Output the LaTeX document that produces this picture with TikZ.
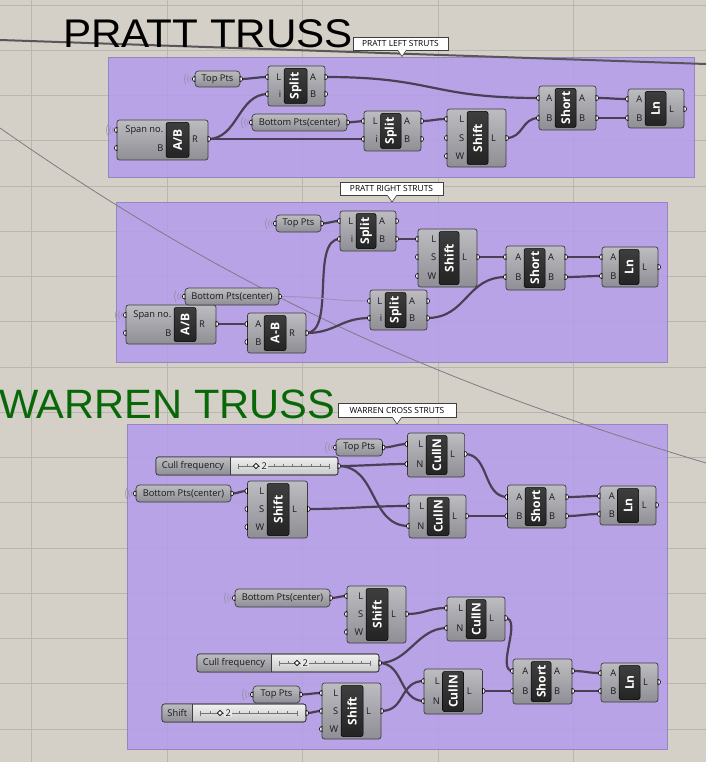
\documentclass[tikz,border=0pt]{standalone}
\usepackage{fontspec}
\setmainfont{Open Sans}
\newfontfamily\titlefont{Liberation Sans}
\usetikzlibrary{fit}
\pgfdeclarelayer{bg}
\pgfdeclarelayer{wirelayer}
\pgfsetlayers{bg,wirelayer,main}

\definecolor{canvas}{RGB}{212,208,200}
\definecolor{gridc}{RGB}{186,182,175}
\definecolor{grp}{RGB}{179,157,235}
\definecolor{grpb}{RGB}{150,132,195}
\definecolor{wirec}{RGB}{74,64,86}
\definecolor{ctop}{RGB}{188,188,193}
\definecolor{cbot}{RGB}{142,142,148}
\definecolor{cedge}{RGB}{62,62,66}
\definecolor{dtop}{RGB}{62,62,62}
\definecolor{dbot}{RGB}{36,36,36}
\definecolor{txtc}{RGB}{25,25,25}
\definecolor{wlc}{RGB}{140,136,145}
\definecolor{strackA}{RGB}{240,240,240}
\definecolor{strackB}{RGB}{200,200,200}
\definecolor{greent}{RGB}{8,104,8}
\definecolor{longl}{RGB}{88,86,88}
\definecolor{thinl}{RGB}{128,122,132}
\definecolor{faintw}{RGB}{160,146,190}

\tikzset{
  compbox/.style={draw=cedge, line width=0.7pt, rounded corners=2.5pt, top color=ctop, bottom color=cbot, inner sep=0pt, outer sep=0pt},
  parbox/.style={compbox, rounded corners=3.5pt},
  darkc/.style={draw=black, line width=0.5pt, top color=dtop, bottom color=dbot, rounded corners=2pt, inner sep=0pt, outer sep=0pt},
  clabel/.style={text=white, font=\bfseries\fontsize{12}{12}\selectfont, rotate=90, inner sep=0pt},
  plabel/.style={font=\fontsize{9.3}{9.3}\selectfont, text=txtc, inner sep=0pt},
  ptext/.style={font=\fontsize{9.3}{9.3}\selectfont, text=txtc, inner sep=0pt},
  grip/.style={draw=black, fill=white, line width=0.6pt},
  wless/.style={draw=wlc, line width=0.45pt},
  wire/.style={draw=wirec, line width=2.2pt},
  grpst/.style={fill=grp, fill opacity=0.88, draw=grpb, line width=0.6pt, inner sep=0pt, outer sep=0pt},
  gridl/.style={draw=gridc, line width=0.7pt},
  callbox/.style={draw=black!75, fill=white, line width=0.6pt, inner sep=0pt, outer sep=0pt},
  calltext/.style={font=\fontsize{8.4}{8.4}\selectfont, text=black, inner sep=0pt},
  titlest/.style={font=\titlefont\fontsize{40}{40}\selectfont, anchor=base west, inner sep=0pt},
  trackl/.style={draw=black!55, line width=0.5pt},
}

\newcommand{\wl}[1]{%
  \foreach \r in {4.5,7.5,10.5}{\draw[wless] (#1) ++(150:\r pt) arc[start angle=150,end angle=210,radius=\r pt];}%
}
\newcommand{\comp}[8]{%
  \node[compbox, fit={(#2,#3) (#4,#5)}] (#1) {};
  \node[darkc, fit={(#6,#3+2.5) (#7,#5-2.5)}] (#1-c) {};
  \node[clabel] (#1-t) at (#1-c.center) {#8};
}
\newcommand{\pin}[4]{%
  \coordinate (tmp) at (0,#3);
  \coordinate (#1-#2) at (#1.west |- tmp);
  \draw[grip] (#1-#2) ++(0,-2.6) arc[start angle=90,end angle=270,radius=2.6pt] -- cycle;
  \path (#1-c.west |- tmp) ++(-2.5,0) node[plabel,anchor=east] {#4};
}
\newcommand{\pout}[4]{%
  \coordinate (tmp) at (0,#3);
  \coordinate (#1-#2) at (#1.east |- tmp);
  \draw[grip] (#1-#2) ++(0,-2.6) arc[start angle=90,end angle=-90,radius=2.6pt] -- cycle;
  \path (#1-c.east |- tmp) ++(3,0) node[plabel,anchor=west] {#4};
}
\newcommand{\param}[6]{%
  \node[parbox, fit={(#2,#3) (#4,#5)}] (#1) {};
  \node[ptext] (#1-t) at (#1.center) {#6};
  \coordinate (#1-i) at (#1.west);
  \coordinate (#1-o) at (#1.east);
  \draw[grip] (#1-i) ++(0,-2.6) arc[start angle=90,end angle=270,radius=2.6pt] -- cycle;
  \draw[grip] (#1-o) ++(0,-2.6) arc[start angle=90,end angle=-90,radius=2.6pt] -- cycle;
  \wl{#1-i}
}
\newcommand{\slider}[8]{%
  \pgfmathsetmacro{\ym}{(#3+#5)/2}%
  \pgfmathsetmacro{\tka}{#6+8}%
  \pgfmathsetmacro{\tkb}{#4-9}%
  \pgfmathsetmacro{\tkd}{(#4-#6-17)/10}%
  \pgfmathsetmacro{\lx}{(#2+#6)/2}%
  \node[compbox, top color=strackA, bottom color=strackB, fit={(#2,#3) (#4,#5)}] (#1) {};
  \path[top color=ctop, bottom color=cbot] (#6,#3) [rounded corners=2.5pt] -- (#2,#3) -- (#2,#5) [sharp corners] -- (#6,#5) -- cycle;
  \draw[cedge, line width=0.6pt] (#6,#3) -- (#6,#5);
  \draw[cedge, line width=0.7pt, rounded corners=2.5pt] (#2,#3) rectangle (#4,#5);
  \node[ptext] (#1-t) at (\lx,\ym) {#7};
  \draw[trackl] (\tka,\ym) -- (\tkb,\ym);
  \foreach \tk in {0,...,10}{\draw[trackl] ({\tka+\tk*\tkd},\ym) -- ++(0,-2);}
  \draw[trackl] (\tka,\ym-2.5) -- ++(0,5);
  \draw[trackl] (\tkb,\ym-2.5) -- ++(0,5);
  \fill[strackA!80!strackB] (#8+4,\ym-4) rectangle (#8+12,\ym+4);
  \draw[fill=white, draw=black, line width=0.6pt] (#8-2.6,\ym) -- ++(2.6,-2.6) -- ++(2.6,2.6) -- ++(-2.6,2.6) -- cycle;
  \node[ptext, anchor=west] (#1-v) at (#8+5.5,\ym) {2};
  \coordinate (#1-o) at (#1.east);
  \draw[grip] (#1-o) ++(0,-2.6) arc[start angle=90,end angle=-90,radius=2.6pt] -- cycle;
}
\newcommand{\wire}[3]{\draw[wire] (#1) .. controls +(#3,0) and +(-#3,0) .. (#2);}
\newcommand{\callout}[7]{% name x1 y1 x2 y2 tipx text
  \node[callbox, fit={(#2,#3) (#4,#5)}] (#1) {};
  \coordinate (#1-tip) at (#6,#5+6.5);
  \fill[white] (#6-4.5,#5-0.4) -- (#1-tip) -- (#6+4.5,#5-0.4) -- cycle;
  \draw[black!75, line width=0.6pt] (#6-4.5,#5) -- (#1-tip) -- (#6+4.5,#5);
  \node[calltext] (#1-t) at (#1.center) {#7};
}

\begin{document}
\begin{tikzpicture}[x=1pt,y=-1pt]
\useasboundingbox (0,0) rectangle (706,762);
\clip (0,0) rectangle (706,762);
\begin{pgfonlayer}{bg}
\fill[canvas] (0,0) rectangle (706,762);
\foreach \gx in {31,167,302,438,573}{\draw[gridl] (\gx,0) -- (\gx,762);}
\foreach \k in {0,...,16}{\draw[gridl] (0,5+45.25*\k) -- (706,5+45.25*\k);}
\node[grpst, fit={(108,57) (694,177)}] (g1) {};
\node[grpst, fit={(116,202) (667,362)}] (g2) {};
\node[grpst, fit={(127,424) (667,749)}] (g3) {};
\end{pgfonlayer}

% titles
\node[titlest, xscale=1.055] (t1) at (63,48) {PRATT TRUSS};
\node[titlest, text=greent, xscale=1.015, font=\titlefont\fontsize{41}{41}\selectfont] (t2) at (-1,418) {WARREN TRUSS};

% callouts
\callout{c1}{353}{37}{448}{50}{402}{PRATT LEFT STRUTS}
\callout{c2}{340}{182}{443}{195.5}{392}{PRATT RIGHT STRUTS}
\callout{c3}{338}{403}{456}{417.5}{397}{WARREN CROSS STRUTS}

% ---------- group 1
\comp{ab1}{117}{120}{208}{160}{166}{189}{A/B}
\pin{ab1}{a}{130}{Span no.}\pin{ab1}{b}{148}{B}\pout{ab1}{oR}{139}{R}
\wl{ab1-a}
\param{tp1}{195}{71}{240}{87}{Top Pts}
\comp{sp1}{268}{66}{325}{106}{284}{307}{Split}
\pin{sp1}{L}{77}{L}\pin{sp1}{i}{94}{i}\pout{sp1}{oA}{77}{A}\pout{sp1}{oB}{94}{B}
\param{bp1}{252}{114}{347}{131}{Bottom Pts(center)}
\comp{sp2}{364}{111}{421}{151}{380.5}{401}{Split}
\pin{sp2}{L}{121}{L}\pin{sp2}{i}{139}{i}\pout{sp2}{oA}{121}{A}\pout{sp2}{oB}{139}{B}
\comp{sh1}{447}{109}{506}{167}{467}{488}{Shift}
\pin{sh1}{L}{119}{L}\pin{sh1}{S}{138}{S}\pin{sh1}{W}{156}{W}\pout{sh1}{oL}{138}{L}
\comp{sr1}{539}{86}{596}{130}{555}{576}{Short}
\pin{sr1}{A}{98}{A}\pin{sr1}{B}{118}{B}\pout{sr1}{oA}{98}{A}\pout{sr1}{oB}{118}{B}
\comp{ln1}{628}{89}{684}{128}{645}{666}{Ln}
\pin{ln1}{A}{99}{A}\pin{ln1}{B}{118}{B}\pout{ln1}{oL}{109}{L}

% ---------- group 2
\param{tp2}{276}{215}{321}{232}{Top Pts}
\comp{sp3}{340}{211}{396}{251}{356}{376}{Split}
\pin{sp3}{L}{221}{L}\pin{sp3}{i}{239}{i}\pout{sp3}{oA}{221}{A}\pout{sp3}{oB}{239}{B}
\comp{sh2}{418}{229}{477}{287}{439}{459}{Shift}
\pin{sh2}{L}{239}{L}\pin{sh2}{S}{257}{S}\pin{sh2}{W}{276}{W}\pout{sh2}{oL}{257}{L}
\comp{sr2}{506}{246}{565}{290}{524}{545}{Short}
\pin{sr2}{A}{257}{A}\pin{sr2}{B}{277}{B}\pout{sr2}{oA}{257}{A}\pout{sr2}{oB}{277}{B}
\comp{ln2}{602}{247}{658}{287}{619}{639}{Ln}
\pin{ln2}{A}{257}{A}\pin{ln2}{B}{276}{B}\pout{ln2}{oL}{267}{L}
\comp{ab2}{126}{305}{216}{344}{174}{196}{A/B}
\pin{ab2}{a}{315}{Span no.}\pin{ab2}{b}{333}{B}\pout{ab2}{oR}{324}{R}
\wl{ab2-a}
\param{bp2}{185}{288}{279}{305}{Bottom Pts(center)}
\comp{amb}{247.5}{313}{306}{353}{264}{286}{A-B}
\pin{amb}{A}{324}{A}\pin{amb}{B}{342}{B}\pout{amb}{oR}{333}{R}
\comp{sp4}{370}{290}{427}{330}{385}{406}{Split}
\pin{sp4}{L}{301}{L}\pin{sp4}{i}{318}{i}\pout{sp4}{oA}{301}{A}\pout{sp4}{oB}{318}{B}

% ---------- group 3 (top)
\param{tp3}{336}{439}{382.5}{456}{Top Pts}
\comp{cn1}{407.5}{433}{464.6}{477}{426}{447}{CullN}
\pin{cn1}{L}{444}{L}\pin{cn1}{N}{464}{N}\pout{cn1}{oL}{454}{L}
\slider{sl1}{156}{457}{338}{475}{230}{Cull frequency}{256}
\param{bp3}{136}{485}{231}{502}{Bottom Pts(center)}
\comp{sh3}{247.5}{481}{307.5}{538}{267}{289}{Shift}
\pin{sh3}{L}{491}{L}\pin{sh3}{S}{509}{S}\pin{sh3}{W}{527}{W}\pout{sh3}{oL}{509}{L}
\comp{cn2}{409}{495}{466}{538}{427}{449}{CullN}
\pin{cn2}{L}{506}{L}\pin{cn2}{N}{526}{N}\pout{cn2}{oL}{516}{L}
\comp{sr3}{507.5}{485}{566}{528}{525}{546}{Short}
\pin{sr3}{A}{497}{A}\pin{sr3}{B}{516}{B}\pout{sr3}{oA}{497}{A}\pout{sr3}{oB}{516}{B}
\comp{ln3}{600}{486}{656}{525}{617.5}{638.6}{Ln}
\pin{ln3}{A}{496}{A}\pin{ln3}{B}{514}{B}\pout{ln3}{oL}{505}{L}

% ---------- group 3 (bottom)
\param{bp4}{235}{589}{330}{607}{Bottom Pts(center)}
\comp{sh4}{347}{586}{406}{643}{366}{388}{Shift}
\pin{sh4}{L}{596}{L}\pin{sh4}{S}{614}{S}\pin{sh4}{W}{632}{W}\pout{sh4}{oL}{614}{L}
\comp{cn3}{447}{597}{505}{641}{466}{486}{CullN}
\pin{cn3}{L}{608}{L}\pin{cn3}{N}{628}{N}\pout{cn3}{oL}{618}{L}
\slider{sl2}{197}{654}{379}{672}{271}{Cull frequency}{297}
\param{tp4}{253}{686}{300}{703}{Top Pts}
\slider{sl3}{162}{704}{306}{722}{192.5}{Shift}{220}
\comp{sh5}{322}{683}{381}{739}{341}{363}{Shift}
\pin{sh5}{L}{693}{L}\pin{sh5}{S}{711}{S}\pin{sh5}{W}{729}{W}\pout{sh5}{oL}{711}{L}
\comp{cn4}{424}{669}{482.5}{714}{442.5}{463.6}{CullN}
\pin{cn4}{L}{681}{L}\pin{cn4}{N}{701}{N}\pout{cn4}{oL}{691}{L}
\comp{sr4}{513}{659}{572}{704}{531}{551}{Short}
\pin{sr4}{A}{671}{A}\pin{sr4}{B}{691}{B}\pout{sr4}{oA}{671}{A}\pout{sr4}{oB}{691}{B}
\comp{ln4}{601}{663}{658}{702}{619}{640}{Ln}
\pin{ln4}{A}{673}{A}\pin{ln4}{B}{691}{B}\pout{ln4}{oL}{682}{L}

% ---------- wires
\begin{pgfonlayer}{wirelayer}
\coordinate (la) at (0,40);
\coordinate (lb) at (706,64);
\draw[longl, line width=2pt] (la) -- (lb);
\coordinate (ta) at (0,128);
\coordinate (tb) at (706,463);
\draw[thinl, line width=0.8pt] (ta) .. controls (250,303) and (456,388) .. (tb);
% group 1
\wire{tp1-o}{sp1-L}{10}
\wire{ab1-oR}{sp1-i}{30}
\wire{ab1-oR}{sp2-i}{40}
\wire{bp1-o}{sp2-L}{8}
\wire{sp1-oA}{sr1-A}{110}
\wire{sp2-oA}{sh1-L}{12}
\wire{sh1-oL}{sr1-B}{18}
\wire{sr1-oA}{ln1-A}{15}
\wire{sr1-oB}{ln1-B}{15}
% group 2
\wire{tp2-o}{sp3-L}{8}
\wire{ab2-oR}{amb-A}{12}
\wire{amb-oR}{sp3-i}{30}
\wire{amb-oR}{sp4-i}{30}
\draw[faintw, line width=1pt] (bp2-o) .. controls +(40,0) and +(-40,0) .. (sp4-L);
\wire{sp3-oB}{sh2-L}{10}
\wire{sh2-oL}{sr2-A}{12}
\wire{sp4-oB}{sr2-B}{40}
\wire{sr2-oA}{ln2-A}{15}
\wire{sr2-oB}{ln2-B}{15}
% group 3 top
\wire{tp3-o}{cn1-L}{10}
\wire{sl1-o}{cn1-N}{25}
\wire{sl1-o}{cn2-N}{40}
\wire{bp3-o}{sh3-L}{8}
\wire{sh3-oL}{cn2-L}{40}
\wire{cn1-oL}{sr3-A}{25}
\wire{cn2-oL}{sr3-B}{15}
\wire{sr3-oA}{ln3-A}{15}
\wire{sr3-oB}{ln3-B}{15}
% group 3 bottom
\wire{bp4-o}{sh4-L}{8}
\wire{sh4-oL}{cn3-L}{20}
\wire{sl2-o}{cn3-N}{30}
\wire{sl2-o}{cn4-N}{25}
\wire{tp4-o}{sh5-L}{10}
\wire{sl3-o}{sh5-S}{8}
\wire{sh5-oL}{cn4-L}{25}
\wire{cn3-oL}{sr4-A}{18}
\wire{cn4-oL}{sr4-B}{15}
\wire{sr4-oA}{ln4-A}{15}
\wire{sr4-oB}{ln4-B}{15}
\end{pgfonlayer}
\end{tikzpicture}
\end{document}
